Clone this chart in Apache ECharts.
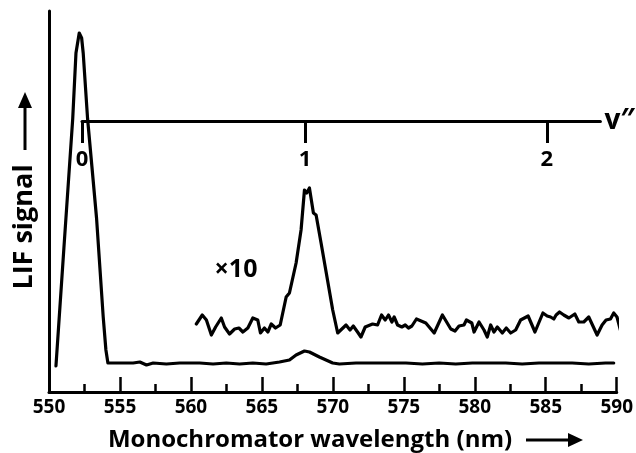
<!DOCTYPE html>
<html>
<head>
<meta charset="utf-8">
<script src="https://cdn.jsdelivr.net/npm/echarts@6/dist/echarts.min.js"></script>
<style>
  html, body { margin: 0; padding: 0; background: #fff; }
  #chart { width: 636px; height: 453px; }
</style>
</head>
<body>
<div id="chart"></div>
<script>
// main LIF trace (wavelength nm, signal arb. units)
const mainWl = [550.49, 551.05, 551.67, 551.90, 552.13, 552.30, 552.41, 552.72, 553.02, 553.35,
  553.82, 554.01, 554.15, 554.41, 555.0, 555.93, 556.40, 556.87, 557.34, 558.27, 559.21, 560.62,
  561.56, 562.49, 563.43, 564.36, 565.30, 566.24, 566.94, 567.41, 568.0, 568.35, 569.05, 569.99,
  570.46, 571.63, 572.80, 573.97, 575.15, 576.31, 577.49, 578.66, 579.83, 581.0, 582.18, 583.34,
  584.52, 585.69, 586.86, 588.03, 589.21, 589.79];
const mainSig = [26, 144, 273, 339, 359, 354, 339, 273, 226, 174,
  75, 42, 29, 29, 29, 29, 30, 27, 29, 28, 29, 29,
  28, 29, 28, 29, 28, 30, 32, 37, 41, 40, 35, 29,
  28, 29, 29, 29, 29, 28, 29, 28, 29, 29, 29, 28,
  29, 29, 29, 28, 29, 29];

// x10 magnified trace
const x10Wl = [560.38, 560.80, 561.09, 561.44, 561.74, 562.14, 562.37, 562.72, 563.08, 563.38,
  563.66, 564.01, 564.36, 564.71, 564.90, 565.18, 565.42, 565.66, 565.96, 566.29,
  566.71, 566.94, 567.41, 567.76, 568.00, 568.16, 568.35, 568.63, 568.82, 569.17,
  569.99, 570.34, 570.93, 571.21, 571.44, 571.74, 571.98, 572.28, 572.80, 573.15,
  573.43, 573.69, 573.92, 574.16, 574.32, 574.56, 574.86, 575.10, 575.33, 575.57,
  575.89, 576.55, 577.14, 577.72, 578.31, 578.61, 578.89, 579.24, 579.41, 579.79,
  579.95, 580.30, 580.65, 580.88, 581.12, 581.35, 581.59, 581.94, 582.22, 582.53,
  582.88, 583.23, 583.76, 584.24, 584.80, 585.10, 585.34, 585.57, 585.73, 585.97,
  586.27, 586.63, 587.05, 587.33, 587.68, 588.03, 588.62, 588.97, 589.25, 589.56,
  589.79, 590.02, 590.26];
const x10Sig = [68, 77, 72, 57, 65, 74, 65, 58, 63, 64,
  60, 64, 74, 72, 59, 64, 60, 68, 64, 67,
  95, 99, 129, 162, 202, 199, 204, 179, 177, 149,
  82, 59, 67, 62, 66, 60, 55, 65, 68, 67,
  77, 72, 77, 70, 75, 67, 65, 67, 64, 66,
  73, 69, 59, 77, 63, 61, 66, 67, 72, 69,
  60, 70, 62, 55, 67, 60, 65, 59, 64, 59,
  62, 72, 76, 60, 79, 76, 75, 73, 77, 80,
  77, 74, 78, 70, 70, 75, 57, 67, 72, 73,
  79, 75, 62];

// v'' progression
const vLevels = [0, 1, 2];
const vWl = [552.32, 568.11, 585.24];
const vAxisEnd = 589.04;

const FONT = "'Open Sans', 'DejaVu Sans', sans-serif";
const pairs = (xs, ys) => xs.map((x, i) => [x, ys[i]]);

const chart = echarts.init(document.getElementById('chart'), null, { renderer: 'canvas' });

chart.setOption({
  animation: false,
  backgroundColor: '#fff',
  grid: [
    { left: 49, right: 18, top: 11, bottom: 61 },
    { left: 82, right: 636 - 604, top: 100, height: 21 }
  ],
  xAxis: [
    {
      gridIndex: 0,
      type: 'value',
      min: 550,
      max: 590,
      interval: 5,
      axisLine: { lineStyle: { color: '#000', width: 3 } },
      axisTick: { inside: true, length: 15, lineStyle: { color: '#000', width: 2.5 } },
      minorTick: { show: true, splitNumber: 2, length: 8, lineStyle: { color: '#000', width: 2.5 } },
      splitLine: { show: false },
      axisLabel: { color: '#000', fontFamily: FONT, fontWeight: 'bold', fontSize: 19, margin: 6 }
    },
    {
      gridIndex: 1,
      type: 'value',
      min: vWl[0],
      max: vAxisEnd,
      axisLine: { lineStyle: { color: '#000', width: 3 } },
      axisTick: { customValues: vWl, length: 22, lineStyle: { color: '#000', width: 3 } },
      splitLine: { show: false },
      axisLabel: {
        customValues: vWl,
        color: '#000', fontFamily: FONT, fontWeight: 'bold', fontSize: 22, margin: 28,
        formatter: function (v) {
          let best = 0;
          vWl.forEach((w, i) => { if (Math.abs(w - v) < Math.abs(vWl[best] - v)) best = i; });
          return String(vLevels[best]);
        }
      },
      name: 'v\u2033',
      nameLocation: 'end',
      nameGap: 4,
      nameTextStyle: { color: '#000', fontFamily: FONT, fontWeight: 'bold', fontSize: 28, verticalAlign: 'middle' }
    }
  ],
  yAxis: [
    {
      gridIndex: 0,
      type: 'value',
      min: 0,
      max: 381,
      axisLine: { show: true, lineStyle: { color: '#000', width: 3 } },
      axisTick: { show: false },
      axisLabel: { show: false },
      splitLine: { show: false }
    },
    { gridIndex: 1, show: false, min: 0, max: 1 }
  ],
  series: [
    {
      name: 'LIF',
      type: 'line',
      data: pairs(mainWl, mainSig),
      showSymbol: false,
      clip: false,
      lineStyle: { color: '#000', width: 3.2, join: 'round', cap: 'round' }
    },
    {
      name: 'LIF x10',
      type: 'line',
      data: pairs(x10Wl, x10Sig),
      showSymbol: false,
      clip: false,
      lineStyle: { color: '#000', width: 3.2, join: 'round', cap: 'round' }
    }
  ],
  graphic: [
    {
      type: 'text', x: 236, y: 270,
      style: { text: '\u00d710', fill: '#000', font: `bold 25px ${FONT}`, align: 'center', verticalAlign: 'middle' }
    },
    {
      type: 'text', x: 310, y: 440,
      style: { text: 'Monochromator wavelength (nm)', fill: '#000', font: `bold 24px ${FONT}`, align: 'center', verticalAlign: 'middle' }
    },
    { type: 'line', shape: { x1: 526, y1: 440, x2: 572, y2: 440 }, style: { stroke: '#000', lineWidth: 3 } },
    { type: 'polygon', shape: { points: [[583, 440], [568, 433], [568, 447]] }, style: { fill: '#000' } },
    {
      type: 'text', x: 24, y: 227, rotation: Math.PI / 2,
      style: { text: 'LIF signal', fill: '#000', font: `bold 27px ${FONT}`, align: 'center', verticalAlign: 'middle' }
    },
    { type: 'line', shape: { x1: 25, y1: 150, x2: 25, y2: 104 }, style: { stroke: '#000', lineWidth: 3 } },
    { type: 'polygon', shape: { points: [[25, 92], [18, 108], [32, 108]] }, style: { fill: '#000' } }
  ]
});
</script>
</body>
</html>
